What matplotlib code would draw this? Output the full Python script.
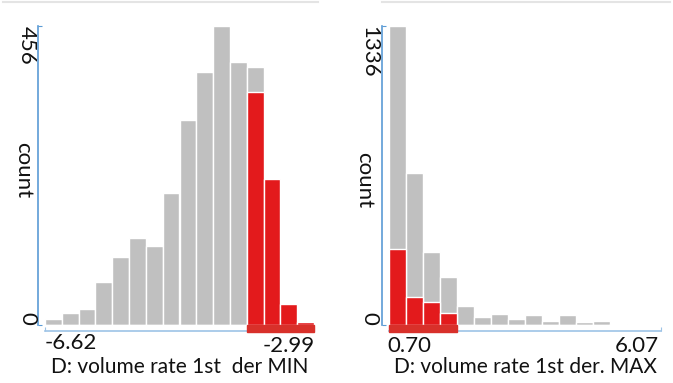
import matplotlib
matplotlib.use("Agg")
import matplotlib.pyplot as plt
import matplotlib.transforms as mtransforms
from matplotlib.patches import Rectangle
from matplotlib.lines import Line2D
import numpy as np

plt.rcParams['font.family'] = ['Lato', 'DejaVu Sans']

# left panel: D volume rate 1st der MIN
min_range = (-6.62, -2.99)
min_total = [9, 18, 24, 66, 103, 132, 121, 201, 312, 386, 456, 401, 393, 223, 32, 4]
min_selected = [0, 0, 0, 0, 0, 0, 0, 0, 0, 0, 0, 0, 356, 223, 32, 4]
min_brush = (-3.90, -2.99)

# right panel: D volume rate 1st der. MAX
max_range = (0.70, 6.07)
max_total = [1336, 679, 325, 215, 85, 37, 49, 25, 43, 18, 46, 15, 19, 6, 0, 0]
max_selected = [339, 127, 101, 52, 0, 0, 0, 0, 0, 0, 0, 0, 0, 0, 0, 0]
max_brush = (0.70, 2.04)

W, H = 673, 383
GRAY = '#c0c0c0'
RED = '#e31a1c'
BRUSH = '#d8302a'
YAXIS = '#5b9bd5'
XAXIS = '#9dc3e6'

fig = plt.figure(figsize=(W / 100, H / 100), dpi=100)


def px_axes(x0, x1, ytop, ybot):
    return fig.add_axes([x0 / W, (H - ybot) / H, (x1 - x0) / W, (ybot - ytop) / H])


def draw_hist(ax, rng, total, selected, brush):
    edges = np.linspace(rng[0], rng[1], len(total) + 1)
    w = edges[1] - edges[0]
    ax.bar(edges[:-1], total, width=w, align='edge', color=GRAY,
           edgecolor='white', linewidth=1)
    ax.bar(edges[:-1], selected, width=w, align='edge', color=RED,
           edgecolor='white', linewidth=1)
    ax.set_xlim(*rng)
    ax.set_ylim(0, max(total))
    for s in ['top', 'right']:
        ax.spines[s].set_visible(False)
    ax.spines['left'].set_position(('outward', 5))
    ax.spines['bottom'].set_position(('outward', 4))
    ax.spines['left'].set_color(YAXIS)
    ax.spines['bottom'].set_color(XAXIS)
    ax.spines['left'].set_linewidth(1.2)
    ax.spines['bottom'].set_linewidth(1.2)
    ax.set_yticks([0, max(total)])
    ax.set_xticks(list(rng))
    ax.tick_params(axis='y', direction='in', length=3, color=YAXIS,
                   labelleft=False)
    ax.tick_params(axis='x', direction='in', length=3, color=XAXIS,
                   labelbottom=False)
    trans = mtransforms.blended_transform_factory(ax.transData, ax.transAxes)
    hpx = ax.get_position().height * H
    ax.add_patch(Rectangle((brush[0], -7 / hpx), brush[1] - brush[0], 7 / hpx,
                           transform=trans, color=BRUSH, clip_on=False,
                           zorder=5))


def ftext(x, y, s, size=16, **kw):
    fig.text(x / W, 1 - y / H, s, fontsize=size, color='#111111', **kw)


ax1 = px_axes(45, 314, 26, 325)
draw_hist(ax1, min_range, min_total, min_selected, min_brush)
ax2 = px_axes(389, 661, 26, 325)
draw_hist(ax2, max_range, max_total, max_selected, max_brush)

# left labels
ftext(27, 26, str(max(min_total)), rotation=-90, ha='center', va='top')
ftext(27, 325, '0', rotation=-90, ha='center', va='bottom')
ftext(23, 170, 'count', rotation=-90, ha='center', va='center')
ftext(45, 349, f'{min_range[0]:.2f}', ha='left', va='baseline')
ftext(315, 352, f'{min_range[1]:.2f}', ha='right', va='baseline')
ftext(180, 373, 'D: volume rate 1st  der MIN', size=15, ha='center',
      va='baseline')

# right labels
ftext(369, 26, str(max(max_total)), rotation=-90, ha='center', va='top')
ftext(369, 325, '0', rotation=-90, ha='center', va='bottom')
ftext(364, 180, 'count', rotation=-90, ha='center', va='center')
ftext(387, 352, f'{max_range[0]:.2f}', ha='left', va='baseline')
ftext(659, 352, f'{max_range[1]:.2f}', ha='right', va='baseline')
ftext(525, 373, 'D: volume rate 1st der. MAX', size=15, ha='center',
      va='baseline')

# faint card borders at the top
for x0, x1 in [(3, 318), (382, 670)]:
    fig.add_artist(Line2D([x0 / W, x1 / W], [1 - 1.5 / H, 1 - 1.5 / H],
                          color='#e4e4e4', linewidth=1.5))

fig.savefig('out.png', dpi=100)
